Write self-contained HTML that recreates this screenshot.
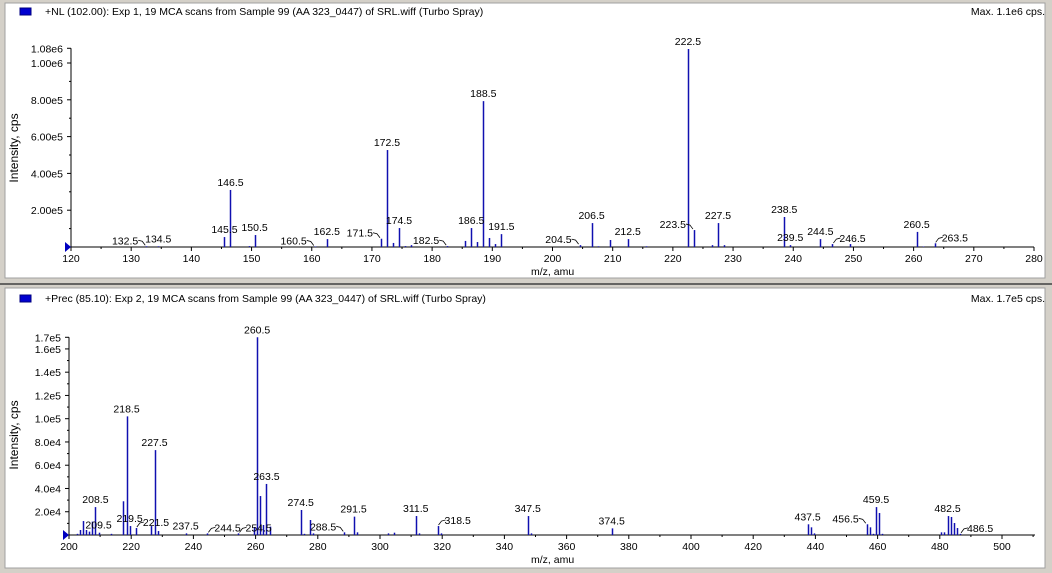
<!DOCTYPE html>
<html><head><meta charset="utf-8"><style>
html,body{margin:0;padding:0;background:#d4d0c8;}
svg{display:block;font-family:"Liberation Sans",Arial,sans-serif;}
</style></head><body>
<svg id="chart" width="1052" height="573" viewBox="0 0 1052 573" xmlns="http://www.w3.org/2000/svg">
<rect x="0" y="0" width="1052" height="573" fill="#d4d0c8"/>
<rect x="5" y="3" width="1040" height="275" fill="#fff" stroke="#a0a0a0"/>
<line x1="0" y1="284" x2="1052" y2="284" stroke="#404040" stroke-width="1.5"/>
<rect x="5" y="288" width="1040" height="280" fill="#fff" stroke="#a0a0a0"/>
<g id="top"></g>
<g id="bot"></g>
</svg>
<script>
// ---- top spectrum data (NL 102.00) ----
const topMz = [132.5,134.5,145.5,146.5,149.5,150.5,160.5,162.5,171.5,172.5,173.5,174.5,175.5,176.5,182.5,185.5,186.5,187.5,188.5,189.5,190.5,191.5,204.5,206.5,207.5,209.5,212.5,215.5,222.5,223.5,226.5,227.5,228.5,238.5,239.5,244.5,246.5,249.5,260.5,261.5,263.5];
const topIntensity = [4000,4000,54000,310000,5000,65000,3000,43000,45000,527000,22000,103000,5000,10000,5000,33000,103000,27000,793000,49000,16000,70000,10000,130000,4000,38000,43000,4000,1076000,92000,10000,130000,10000,163000,10000,43000,16000,16000,82000,3000,20000];
const topLabelMz = [132.5,134.5,145.5,146.5,150.5,160.5,162.5,171.5,172.5,174.5,182.5,186.5,188.5,191.5,204.5,206.5,212.5,222.5,223.5,227.5,238.5,239.5,244.5,246.5,260.5,263.5];
const topLabelStyle = ["L","C","C","C","C","L","C","L","C","C","L","C","C","C","L","C","C","C","L","C","C","C","C","R","C","R"];
const topYTicks = [200000,400000,600000,800000,1000000,1080000];
const topYTickLabels = ["2.00e5","4.00e5","6.00e5","8.00e5","1.00e6","1.08e6"];
const topXTicks = [120,130,140,150,160,170,180,190,200,210,220,230,240,250,260,270,280];

// ---- bottom spectrum data (Prec 85.10) ----
const botMz = [202.5,203.5,204.5,205.5,206.5,207.5,208.5,209.5,213.5,217.5,218.5,219.5,221.5,226.5,227.5,228.5,237.5,244.5,254.5,259.5,260.5,261.5,262.5,263.5,264.5,274.5,275.5,277.5,278.5,288.5,291.5,292.5,302.5,304.5,311.5,312.5,318.5,319.5,347.5,348.5,374.5,437.5,438.5,439.5,456.5,457.5,458.5,459.5,460.5,461.5,480.5,481.5,482.5,483.5,484.5,485.5,486.5];
const botIntensity = [1000,4300,12000,4300,2900,11500,24000,2000,1000,29000,102000,7700,6000,7700,73000,3400,1400,1400,1400,6600,170000,33500,8600,43900,7200,21500,1000,12900,1400,2300,15800,2300,1400,2000,16300,1400,7700,1400,16300,1400,5700,9200,6600,1400,9200,6600,1000,24000,18900,1000,2300,2300,16300,15500,10300,6000,1000];
const botLabelMz = [208.5,209.5,218.5,219.5,221.5,227.5,237.5,244.5,254.5,260.5,263.5,274.5,288.5,291.5,311.5,318.5,347.5,374.5,437.5,456.5,459.5,482.5,486.5];
const botLabelStyle = ["C","C","C","C","R","C","C","R","R","C","C","C","L","C","C","R","C","C","C","L","C","C","R"];
const botYTicks = [20000,40000,60000,80000,100000,120000,140000,160000,170000];
const botYTickLabels = ["2.0e4","4.0e4","6.0e4","8.0e4","1.0e5","1.2e5","1.4e5","1.6e5","1.7e5"];
const botXTicks = [200,220,240,260,280,300,320,340,360,380,400,420,440,460,480,500];

const NS = "http://www.w3.org/2000/svg";
function mk(parent, tag, attrs, text){
  const e = document.createElementNS(NS, tag);
  for (const k in attrs) e.setAttribute(k, attrs[k]);
  if (text !== undefined) e.textContent = text;
  parent.appendChild(e);
  return e;
}

function drawPanel(g, cfg){
  const xs = v => cfg.x0 + (v - cfg.xmin) * (cfg.x1 - cfg.x0) / (cfg.xmax - cfg.xmin);
  const ys = v => cfg.base - v * cfg.yPer;
  const sq = mk(g, "rect", {x:20, y:cfg.hy-7, width:11, height:7, fill:"#0000d0", stroke:"#000080"});
  
  
  const ht = mk(g, "text", {x:45, y:cfg.hy, "font-size":"10.5"}, cfg.title);
  
  
  const mx = mk(g, "text", {x:1045, y:cfg.hy, "font-size":"10.5", "text-anchor":"end"}, cfg.maxText);
  
  
  const yTop = ys(cfg.yTicks[cfg.yTicks.length-1]);
  const ya = mk(g, "line", {x1:cfg.x0, y1:yTop, x2:cfg.x0, y2:cfg.base, stroke:"#000"});
  
  
  cfg.yTicks.forEach((v,i)=>{
    const y = ys(v);
    const t = mk(g, "line", {x1:cfg.x0-4, y1:y, x2:cfg.x0, y2:y, stroke:"#000"});
    
    
    const l = mk(g, "text", {x:cfg.x0-8, y:y+4, "font-size":"10.5", "text-anchor":"end"}, cfg.yLabels[i]);
    
    
  });
  for (let v = cfg.yMinor; v < cfg.yTicks[cfg.yTicks.length-1]; v += cfg.yMinor*2){
    const y = ys(v);
    const t = mk(g, "line", {x1:cfg.x0-2, y1:y, x2:cfg.x0, y2:y, stroke:"#000"});
    
    
  }
  const yt = mk(g, "text", {x:0, y:0, "font-size":"12", "text-anchor":"middle", transform:`translate(${cfg.ytx},${cfg.yty}) rotate(-90)`}, "Intensity, cps");
  
  
  const xa = mk(g, "line", {x1:cfg.x0, y1:cfg.base, x2:cfg.xEnd, y2:cfg.base, stroke:"#000"});
  
  
  const tri = mk(g, "polygon", {points:`${cfg.x0-6},${cfg.base-5} ${cfg.x0},${cfg.base} ${cfg.x0-6},${cfg.base+5}`, fill:"#0000c0"});
  
  
  cfg.xTicks.forEach(v=>{
    const x = xs(v);
    const t = mk(g, "line", {x1:x, y1:cfg.base, x2:x, y2:cfg.base+4, stroke:"#000"});
    
    
    const l = mk(g, "text", {x:x, y:cfg.base+15, "font-size":"10.5", "text-anchor":"middle"}, String(v));
    
    
  });
  const step = cfg.xTicks[1]-cfg.xTicks[0];
  for (let v = cfg.xmin + step/2; xs(v) <= cfg.xEnd; v += step){
    const x = xs(v);
    const t = mk(g, "line", {x1:x, y1:cfg.base, x2:x, y2:cfg.base+2, stroke:"#000"});
    
    
  }
  const xt = mk(g, "text", {x:531, y:cfg.base+28, "font-size":"10.5"}, "m/z, amu");
  
  
  cfg.mz.forEach((m,i)=>{
    const x = Math.round(xs(m)) + 0.5;
    const b = mk(g, "line", {x1:x, y1:cfg.base, x2:x, y2:ys(cfg.inten[i]), stroke:"#1010b0", "stroke-width":"1.5"});
    
    
  });
  cfg.labMz.forEach((m,i)=>{
    const idx = cfg.mz.indexOf(m);
    const v = idx >= 0 ? cfg.inten[idx] : 0;
    const x = xs(m), top = ys(v);
    const st = cfg.labStyle[i];
    let t;
    if (st === "C"){
      t = mk(g, "text", {x:x, y:top-4, "font-size":"10.5", "text-anchor":"middle"}, m.toFixed(1));
    } else if (st === "L"){
      t = mk(g, "text", {x:x-8, y:top-2, "font-size":"10.5", "text-anchor":"end"}, m.toFixed(1));
      const ld = mk(g, "path", {d:`M${x-8},${top-6} L${x-4},${top-5} L${x-1},${top-1}`, fill:"none", stroke:"#000", "stroke-width":"0.8"});
      
      
    } else {
      t = mk(g, "text", {x:x+7, y:top-2, "font-size":"10.5", "text-anchor":"start"}, m.toFixed(1));
      const ld = mk(g, "path", {d:`M${x+1},${top-1} L${x+4},${top-5} L${x+8},${top-6}`, fill:"none", stroke:"#000", "stroke-width":"0.8"});
      
      
    }
    
    
  });
}

drawPanel(document.getElementById('top'), {
  x0:71, x1:1034, xmin:120, xmax:280, xEnd:1034, base:247, yPer:184/1000000,
  yTicks:topYTicks, yLabels:topYTickLabels, yMinor:100000, xTicks:topXTicks,
  mz:topMz, inten:topIntensity, labMz:topLabelMz, labStyle:topLabelStyle,
  hy:15, title:"+NL (102.00): Exp 1, 19 MCA scans from Sample 99 (AA 323_0447) of SRL.wiff (Turbo Spray)",
  maxText:"Max. 1.1e6 cps.", ytx:18, yty:148
});
drawPanel(document.getElementById('bot'), {
  x0:69, x1:1002, xmin:200, xmax:500, xEnd:1035, base:535, yPer:1.163/1000,
  yTicks:botYTicks, yLabels:botYTickLabels, yMinor:10000, xTicks:botXTicks,
  mz:botMz, inten:botIntensity, labMz:botLabelMz, labStyle:botLabelStyle,
  hy:302, title:"+Prec (85.10): Exp 2, 19 MCA scans from Sample 99 (AA 323_0447) of SRL.wiff (Turbo Spray)",
  maxText:"Max. 1.7e5 cps.", ytx:18, yty:435
});
</script>
</body></html>
